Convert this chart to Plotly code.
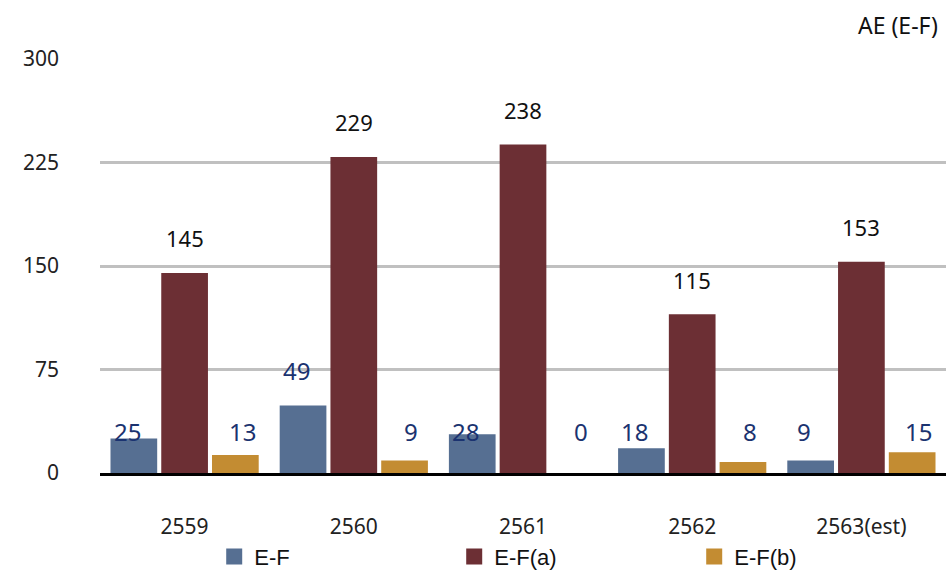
import plotly.graph_objects as go

years = ["2559", "2560", "2561", "2562", "2563(est)"]
ef = [25, 49, 28, 18, 9]
ef_a = [145, 229, 238, 115, 153]
ef_b = [13, 9, 0, 8, 15]

series_names = ["E-F", "E-F(a)", "E-F(b)"]
series_values = [ef, ef_a, ef_b]
colors = ["#566f92", "#6c2f34", "#c38c32"]
label_colors = ["#1b3370", "#111111", "#1b3370"]
label_sizes = [24, 22, 24]
y_ticks = [0, 75, 150, 225, 300]

fig = go.Figure()
for name, vals, col in zip(series_names, series_values, colors):
    fig.add_trace(go.Bar(x=years, y=vals, name=name, marker_color=col,
                         marker_line_width=0, showlegend=False, legendgroup=name))

# legend keys drawn as large squares
for name, col in zip(series_names, colors):
    fig.add_trace(go.Scatter(x=[None], y=[None], mode="markers", name=name,
                             legendgroup=name,
                             marker=dict(symbol="square", size=26, color=col)))

# value labels above each bar (small values share a common baseline)
offsets = [-0.34, 0.0, 0.34]
for vals, off, lc, fs in zip(series_values, offsets, label_colors, label_sizes):
    for i, v in enumerate(vals):
        ly = 30 if v < 30 else v + 25
        fig.add_annotation(x=i + off, y=ly, text=str(v),
                           showarrow=False, xref="x", yref="y",
                           font=dict(family="Noto Sans", size=fs, color=lc))

fig.add_annotation(text="AE (E-F)", xref="paper", yref="paper", x=1.0, y=1.0,
                   xanchor="right", yanchor="bottom", yshift=16, xshift=-6,
                   showarrow=False,
                   font=dict(family="Noto Sans", size=23, color="#111111"))

fig.update_layout(
    width=946, height=577,
    margin=dict(l=100, r=0, t=59, b=104, autoexpand=False),
    paper_bgcolor="white", plot_bgcolor="white",
    barmode="group", bargap=0.1, bargroupgap=0.08,
    font=dict(family="Noto Sans", size=21, color="#222222"),
    showlegend=True,
    legend=dict(orientation="h", x=0.135, xanchor="left",
                yref="container", y=0.035, yanchor="middle",
                bgcolor="rgba(0,0,0,0)",
                font=dict(family="Liberation Sans", size=22, color="#111111"),
                itemsizing="trace",
                entrywidth=195, entrywidthmode="pixels", traceorder="normal"),
    xaxis=dict(type="category", showline=True, linecolor="black", linewidth=2.5,
               ticks="", ticklabelstandoff=33, showgrid=False,
               range=[-0.5, 4.5],
               tickfont=dict(family="Noto Sans", size=21, color="#222222")),
    yaxis=dict(range=[0, 300], tickvals=y_ticks, showgrid=True,
               gridcolor="#c0c0c0", gridwidth=2.5, zeroline=False,
               ticks="", ticklabelstandoff=40,
               tickfont=dict(family="Noto Sans", size=21, color="#222222")),
)

fig.write_html("out.html")
